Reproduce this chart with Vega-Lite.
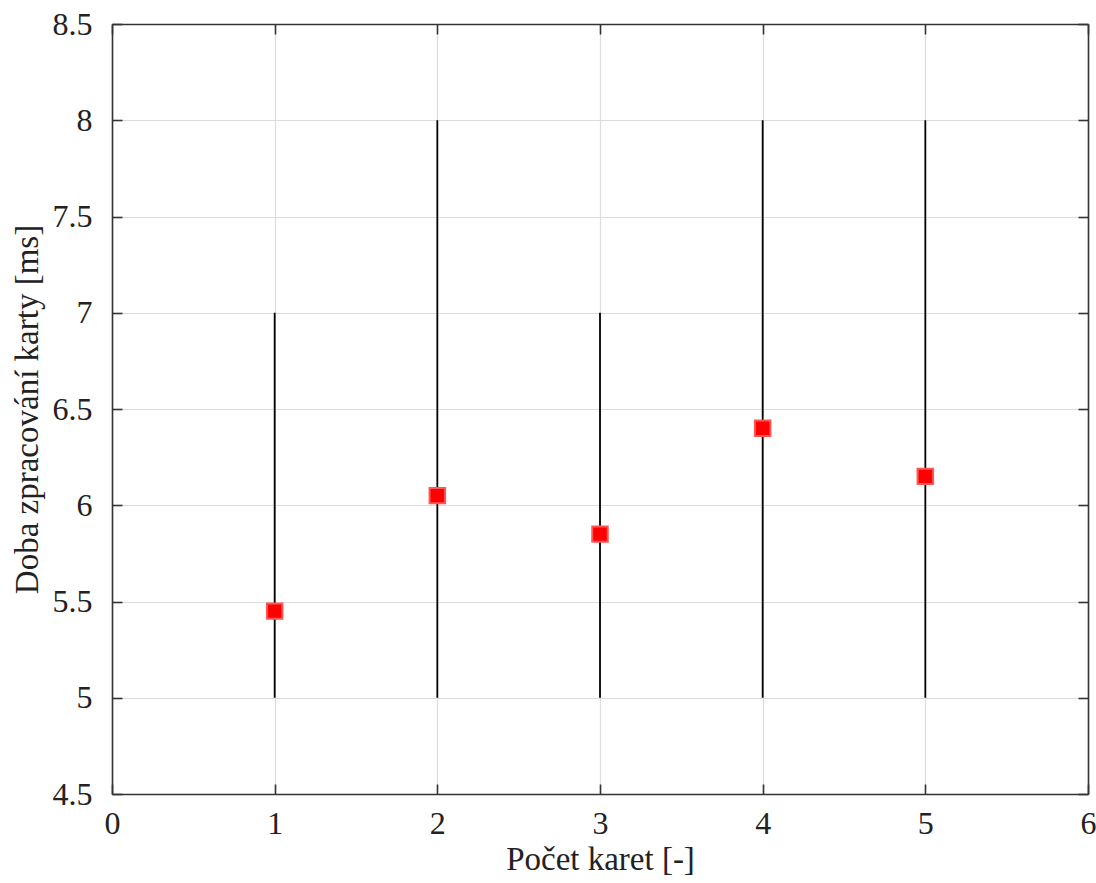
{
  "$schema": "https://vega.github.io/schema/vega-lite/v6.json",
  "width": 976,
  "height": 770,
  "autosize": "none",
  "padding": {"left": 112, "top": 24, "right": 8, "bottom": 89},
  "background": "white",
  "config": {
    "view": {"stroke": null},
    "font": "Liberation Serif",
    "axis": {
      "labelFont": "Liberation Serif",
      "titleFont": "Liberation Serif",
      "labelFontSize": 32,
      "titleFontSize": 33,
      "titleFontWeight": "normal",
      "labelColor": "#222",
      "titleColor": "#222",
      "domainColor": "#333",
      "domainWidth": 1.6,
      "tickColor": "#333",
      "tickWidth": 1.6,
      "tickSize": -10,
      "gridColor": "#dcdcdc",
      "gridWidth": 1.2,
      "labelFlush": false,
      "labelOverlap": false,
      "format": "~g"
    }
  },
  "data": {"values": [
    {"n": 1, "t": 5.45, "lo": 5, "hi": 7},
    {"n": 2, "t": 6.05, "lo": 5, "hi": 8},
    {"n": 3, "t": 5.85, "lo": 5, "hi": 7},
    {"n": 4, "t": 6.4, "lo": 5, "hi": 8},
    {"n": 5, "t": 6.15, "lo": 5, "hi": 8}
  ]},
  "resolve": {"axis": {"x": "independent", "y": "independent"}},
  "layer": [
    {
      "mark": {"type": "rule", "color": "black", "strokeWidth": 1.8},
      "encoding": {
        "x": {"field": "n", "type": "quantitative", "scale": {"domain": [0, 6], "nice": false},
          "axis": {"orient": "bottom", "values": [0, 1, 2, 3, 4, 5, 6], "format": "~g", "title": "Počet karet [-]", "labelPadding": 24, "titlePadding": 4, "grid": true}},
        "y": {"field": "lo", "type": "quantitative", "scale": {"domain": [4.5, 8.5], "nice": false, "zero": false},
          "axis": {"orient": "left", "values": [4.5, 5, 5.5, 6, 6.5, 7, 7.5, 8, 8.5], "format": "~g", "title": "Doba zpracování karty [ms]", "labelPadding": 30, "titlePadding": 8, "grid": true}},
        "y2": {"field": "hi"}
      }
    },
    {
      "mark": {"type": "point", "shape": "square", "filled": true, "size": 240, "fill": "#ff0000", "stroke": "#ff5555", "strokeWidth": 2, "opacity": 1},
      "encoding": {
        "x": {"field": "n", "type": "quantitative",
          "axis": {"orient": "top", "values": [0, 1, 2, 3, 4, 5, 6], "labels": false, "title": null, "grid": false}},
        "y": {"field": "t", "type": "quantitative",
          "axis": {"orient": "right", "values": [4.5, 5, 5.5, 6, 6.5, 7, 7.5, 8, 8.5], "labels": false, "title": null, "grid": false}}
      }
    }
  ]
}
